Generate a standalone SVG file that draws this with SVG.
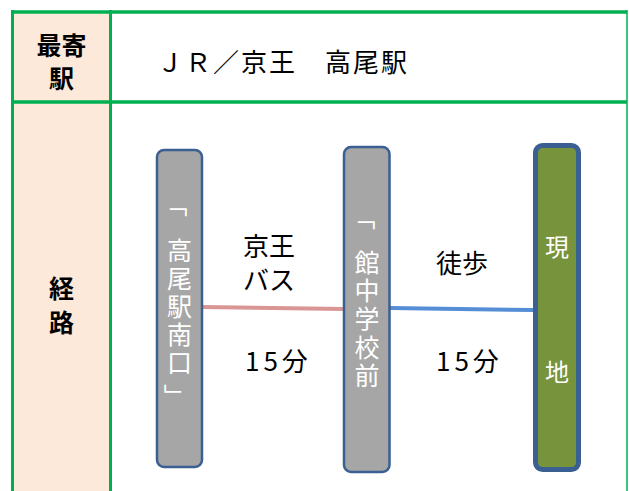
<svg xmlns="http://www.w3.org/2000/svg" width="629" height="491" viewBox="0 0 629 491">
<style>
.jp{font-family:"Noto Sans CJK JP","Noto Sans",sans-serif;}
.hd{font-size:25px;font-weight:bold;fill:#000;text-anchor:middle;}
.lbl{font-size:26px;fill:#000;}
.vt{font-size:25px;fill:#fff;text-anchor:middle;}
.node{fill:#A6A6A6;stroke:#3A5F92;stroke-width:2.5;}
</style>
<rect width="629" height="491" fill="#fff"/>
<g id="table">
<rect x="12.5" y="12" width="97.5" height="479" fill="#FCE9DA"/>
<line x1="11" y1="12" x2="627" y2="12" stroke="#00B050" stroke-width="3.5"/>
<line x1="11" y1="102" x2="627" y2="102" stroke="#00B050" stroke-width="3.5"/>
<line x1="12.5" y1="10" x2="12.5" y2="491" stroke="#00B050" stroke-width="3"/>
<line x1="110.5" y1="10" x2="110.5" y2="491" stroke="#00B050" stroke-width="3"/>
<line x1="627" y1="10" x2="627" y2="491" stroke="#00B050" stroke-width="1.5"/>
<text class="jp hd" x="61.5" y="55">最寄</text>
<text class="jp hd" x="61.5" y="88">駅</text>
<text class="jp hd" x="61.5" y="298">経</text>
<text class="jp hd" x="61.5" y="332">路</text>
<text class="jp" x="157" y="72" font-size="26" letter-spacing="2" fill="#000">ＪＲ／京王　高尾駅</text>
</g>
<g id="connectors">
<line x1="202" y1="307" x2="344" y2="309" stroke="#D99694" stroke-width="4"/>
<line x1="390" y1="308" x2="533" y2="310" stroke="#558ED5" stroke-width="4"/>
</g>
<g id="node-takao">
<rect class="node" x="157" y="150" width="45" height="317" rx="7"/>
<text class="jp vt" x="178 179.5 179.5 179.5 179.5 179.5 180" y="192 260 288 316 344 372 384" rotate="90 0 0 0 0 0 90">「高尾駅南口」</text>
</g>
<g id="node-tate">
<rect class="node" x="344" y="147" width="45.5" height="325" rx="7"/>
<text class="jp vt" x="366 367 367 367 367 367" y="205 272 300 328 357 385" rotate="90 0 0 0 0 0">「館中学校前</text>
</g>
<g id="node-site">
<rect x="535.5" y="145.5" width="43" height="324" rx="7" fill="#77933C" stroke="#3A5F92" stroke-width="5"/>
<text class="jp" x="557" y="256" font-size="24" fill="#fff" text-anchor="middle">現</text>
<text class="jp" x="557" y="381" font-size="24" fill="#fff" text-anchor="middle">地</text>
</g>
<g id="labels">
<text class="jp lbl" x="243" y="256">京王</text>
<text class="jp lbl" x="243" y="290">バス</text>
<text class="jp lbl" x="245" y="371" letter-spacing="4">15分</text>
<text class="jp lbl" x="436" y="273">徒歩</text>
<text class="jp lbl" x="436" y="371" letter-spacing="4">15分</text>
</g>
</svg>
